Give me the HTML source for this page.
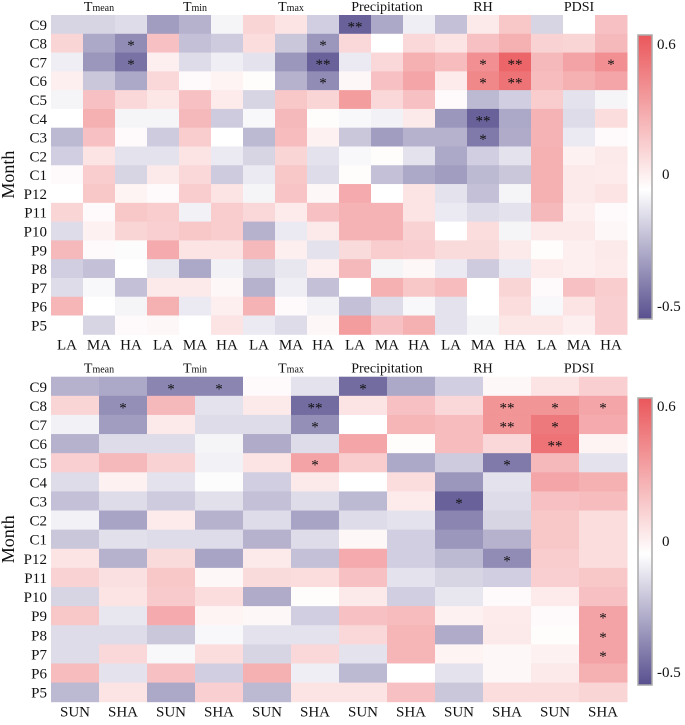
<!DOCTYPE html>
<html><head><meta charset="utf-8">
<style>
body{margin:0;background:#fff;width:685px;height:720px;overflow:hidden;font-family:"Liberation Serif","DejaVu Serif",serif;}
text,tspan{font-family:"Liberation Serif","DejaVu Serif",serif !important;fill:#111;}
</style></head>
<body>
<svg id="chart" width="685" height="720" xmlns="http://www.w3.org/2000/svg">
<defs>
<linearGradient id="cbar" x1="0" y1="0" x2="0" y2="1">
<stop offset="0" stop-color="#ea575b"/><stop offset="0.545" stop-color="#ffffff"/><stop offset="1" stop-color="#58508f"/>
</linearGradient>
</defs>
</svg>
<script>
const months=["C9","C8","C7","C6","C5","C4","C3","C2","C1","P12","P11","P10","P9","P8","P7","P6","P5"];
const groups=["Precipitation","RH","PDSI"];
const topSub=["LA","MA","HA"];
const botSub=["SUN","SHA"];
const colorbarTicks=["0.6","0","-0.5"];
const topValues=[
[-0.12,-0.12,-0.1,-0.28,-0.22,-0.03,0.15,0.1,-0.14,-0.45,-0.25,-0.05,-0.18,0.08,0.2,-0.12,0.0,0.22],
[0.15,-0.25,-0.33,0.22,-0.18,-0.15,0.12,-0.16,-0.3,0.14,0.0,0.14,0.1,0.22,0.28,0.16,0.15,0.25],
[-0.05,-0.3,-0.4,0.06,-0.1,-0.05,-0.08,-0.3,-0.45,-0.06,0.14,0.28,0.24,0.4,0.55,0.25,0.33,0.4],
[0.06,-0.16,-0.25,0.14,0.02,0.04,0.01,-0.22,-0.33,0.03,0.22,0.32,0.07,0.43,0.5,0.24,0.28,0.32],
[-0.03,0.22,0.14,0.09,0.22,0.07,-0.12,0.2,0.15,0.35,0.14,0.22,0.02,-0.2,-0.14,0.18,-0.08,-0.03],
[0.0,0.28,-0.03,-0.03,0.25,-0.15,-0.02,0.25,0.01,-0.02,-0.04,0.08,-0.3,-0.45,-0.25,0.27,-0.1,0.12],
[-0.2,0.22,0.02,-0.15,0.18,0.0,-0.2,0.24,0.05,-0.16,-0.28,-0.22,-0.22,-0.38,-0.24,0.27,-0.06,0.02],
[-0.14,0.1,-0.08,-0.08,0.1,-0.06,-0.12,0.15,-0.08,-0.02,0.01,-0.08,-0.25,-0.14,-0.08,0.28,0.05,0.08],
[0.02,0.18,-0.12,0.08,0.14,-0.15,-0.06,0.2,-0.1,0.01,-0.18,-0.25,-0.28,-0.2,-0.16,0.28,0.08,0.07],
[0.0,0.2,0.04,0.02,0.18,0.1,-0.03,0.21,0.03,0.3,0.0,0.1,-0.08,-0.18,-0.03,0.28,0.08,0.1],
[0.15,0.02,0.2,0.18,-0.04,0.18,0.14,0.07,0.22,0.27,0.27,0.1,-0.06,-0.1,-0.08,0.25,0.06,0.02],
[-0.1,0.05,0.15,0.17,0.2,0.18,-0.22,-0.06,0.08,0.27,0.27,0.16,0.0,0.12,-0.03,0.08,0.08,0.03],
[0.25,0.02,-0.01,0.3,0.1,0.1,0.25,0.06,-0.08,0.13,0.18,0.17,0.13,0.13,0.08,0.01,0.06,0.08],
[-0.14,-0.18,0.0,-0.07,-0.25,-0.04,-0.12,-0.07,0.06,0.25,-0.03,0.03,-0.06,-0.15,-0.06,0.07,0.06,0.07],
[-0.1,-0.02,-0.18,0.08,0.08,0.03,-0.22,-0.05,-0.18,0.0,0.28,0.2,0.24,0.0,0.15,0.02,0.22,0.18],
[0.26,0.0,-0.03,0.28,-0.06,0.06,0.27,0.02,-0.04,-0.18,-0.1,-0.02,-0.08,0.0,0.12,-0.02,0.1,0.17],
[0.0,-0.12,0.02,0.03,0.0,0.1,-0.06,-0.1,0.03,0.35,0.22,0.28,-0.08,-0.03,0.09,0.09,0.06,0.17]];
const topStars=[
["","","","","","","","","","**","","","","","","","",""],
["","","*","","","","","","*","","","","","","","","",""],
["","","*","","","","","","**","","","","","*","**","","","*"],
["","","","","","","","","*","","","","","*","**","","",""],
[],["","","","","","","","","","","","","","**"],["","","","","","","","","","","","","","*"]];
const botValues=[
[-0.22,-0.25,-0.35,-0.35,0.02,-0.08,-0.42,-0.25,-0.14,0.03,0.1,0.17],
[0.15,-0.32,0.25,-0.08,0.08,-0.42,0.1,0.22,0.14,0.38,0.38,0.32],
[-0.04,-0.28,0.08,-0.1,-0.1,-0.32,0.0,0.26,0.24,0.38,0.48,0.3],
[-0.22,-0.1,-0.1,-0.03,-0.24,-0.1,0.32,0.01,0.24,0.14,0.5,0.04],
[0.17,0.25,0.16,-0.04,0.1,0.33,0.18,-0.25,-0.15,-0.38,0.25,-0.08],
[-0.1,0.05,-0.08,-0.01,-0.14,0.08,0.0,0.12,-0.3,-0.08,0.32,0.28],
[-0.18,-0.1,-0.15,-0.09,-0.18,-0.1,-0.2,0.07,-0.45,-0.1,0.22,0.24],
[-0.04,-0.26,0.07,-0.22,-0.1,-0.26,-0.1,-0.08,-0.35,-0.12,0.2,0.12],
[-0.16,-0.09,-0.1,-0.1,-0.22,-0.1,0.03,-0.14,-0.3,-0.22,0.2,0.12],
[0.1,-0.22,0.13,-0.26,0.08,-0.18,0.3,-0.14,-0.2,-0.33,0.18,0.12],
[0.16,0.11,0.2,0.03,0.13,0.12,0.22,-0.08,-0.12,-0.14,0.17,0.2],
[-0.12,0.1,0.19,0.12,-0.24,0.01,0.08,-0.14,-0.07,0.02,0.07,0.22],
[0.2,-0.07,0.3,0.04,0.03,-0.14,0.22,0.24,0.05,0.07,0.02,0.33],
[-0.1,-0.1,-0.16,-0.02,-0.08,-0.08,0.14,0.26,-0.24,0.08,0.01,0.33],
[-0.1,0.14,-0.02,0.12,-0.12,0.14,-0.08,0.26,0.04,0.03,0.05,0.33],
[0.24,-0.08,0.22,-0.14,0.28,-0.05,-0.2,0.0,-0.08,0.03,0.08,0.28],
[-0.2,0.1,-0.25,0.17,-0.2,0.1,0.1,0.22,-0.16,0.12,0.12,0.15]];
const botStars=[
["","","*","*","","","*","","","","",""],
["","*","","","","**","","","","**","*","*"],
["","","","","","*","","","","**","*",""],
["","","","","","","","","","","**",""],
["","","","","","*","","","","*","",""],
[],
["","","","","","","","","*","","",""],
[],[],
["","","","","","","","","","*","",""],
[],[],
["","","","","","","","","","","","*"],
["","","","","","","","","","","","*"],
["","","","","","","","","","","","*"]];

const svg=document.getElementById('chart');
const NS='http://www.w3.org/2000/svg';
function mk(tag,attrs,parent){const e=document.createElementNS(NS,tag);for(const k in attrs)e.setAttribute(k,attrs[k]);(parent||svg).appendChild(e);return e;}
function lerp(a,b,t){return Math.round(a+(b-a)*t);}
function color(v){
  if(v>=0){const t=Math.min(v/0.6,1);return `rgb(${lerp(255,234,t)},${lerp(255,87,t)},${lerp(255,91,t)})`;}
  const t=Math.min(-v/0.5,1);return `rgb(${lerp(255,88,t)},${lerp(255,80,t)},${lerp(255,143,t)})`;
}
function panel(name,values,stars,subs,top,bottom,cbTop,cbBot,cbLabelY){
  const g=mk('g',{});
  
  
  const x0=51,x1=627,nc=values[0].length,nr=months.length;
  const cw=(x1-x0)/nc,rh=(bottom-top)/nr;
  const xs=c=>x0+c*cw, ys=r=>top+r*rh;
  values.forEach((row,r)=>row.forEach((v,c)=>{
    const rect=mk('rect',{x:xs(c),y:ys(r),width:cw+0.5,height:rh+0.5,fill:color(v)},g);
    
    
    const s=(stars[r]||[])[c];
    if(s){const t=mk('text',{x:xs(c)+cw/2,y:ys(r)+rh/2+7,'text-anchor':'middle','font-size':15,fill:'#333'},g);t.textContent=s;
      
      }
  }));
  months.forEach((m,r)=>{const t=mk('text',{x:47,y:ys(r)+rh/2+5.5,'text-anchor':'end','font-size':15},g);t.textContent=m;
    
    });
  for(let c=0;c<nc;c++){const t=mk('text',{x:xs(c)+cw/2,y:bottom+15,'text-anchor':'middle','font-size':15},g);t.textContent=subs[c%subs.length];
    
    }
  const gw=(x1-x0)/6;
  const tn=[["T","mean"],["T","min"],["T","max"]];
  for(let i=0;i<6;i++){
    const cx=x0+gw*(i+0.5);
    const t=mk('text',{x:cx,y:top-4,'text-anchor':'middle','font-size':14},g);
    
    
    if(i<3){t.textContent=tn[i][0];const sp=mk('tspan',{'font-size':10},t);sp.textContent=tn[i][1];}
    else t.textContent=groups[i-3];
  }
  const my=(top+bottom)/2;
  const ml=mk('text',{x:14,y:my,'text-anchor':'middle','font-size':18,transform:`rotate(-90 14 ${my})`},g);ml.textContent='Month';
  
  
  const cb=mk('rect',{x:638,y:cbTop,width:14,height:cbBot-cbTop,fill:'url(#cbar)',stroke:'#aaa','stroke-width':1.5},g);
  
  
  colorbarTicks.forEach((l,i)=>{const t=mk('text',{x:l==='0'?662:657,y:cbLabelY[i],'font-size':15},g);t.textContent=l;
    
    });
}
panel('top-heatmap',topValues,topStars,topSub,15,334.3,35,319,[49,179,311]);
panel('bottom-heatmap',botValues,botStars,botSub,376.7,701.7,398,685,[411,546,677]);
</script>
</body></html>
